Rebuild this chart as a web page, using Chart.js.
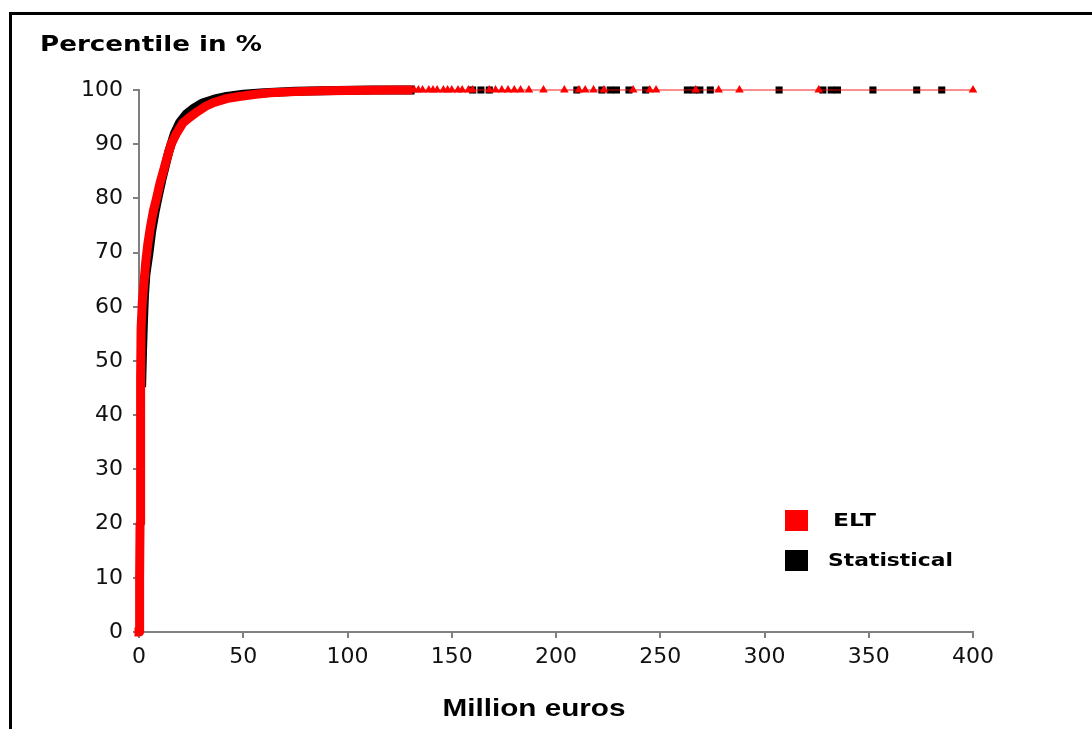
<!DOCTYPE html>
<html>
<head>
<meta charset="utf-8">
<script src="https://cdn.jsdelivr.net/npm/chart.js@4/dist/chart.umd.min.js"></script>
<style>
  body { margin: 0; background: #fff; }
  #frame { position: absolute; left: 9px; top: 12px; width: 1083px; height: 717px;
           border-top: 3px solid #000; border-left: 3px solid #000; }
  canvas { display: block; }
</style>
</head>
<body>
<div id="frame"><canvas id="chart" width="1080" height="714"></canvas></div>
<script>
const xTicks = [0, 50, 100, 150, 200, 250, 300, 350, 400];
const yTicks = [0, 10, 20, 30, 40, 50, 60, 70, 80, 90, 100];
const seriesNames = ['ELT', 'Statistical'];
const xTitle = 'Million euros';
const yTitle = 'Percentile in %';

// ELT: loss (million euros) vs percentile
const eltX = [0, 0.3, 0.5, 0.6, 0.8, 0.9, 1.0, 1.6, 2.5, 3.3, 4.2, 5.6, 6.8, 8.4, 10, 11.8, 13.6, 15.4,
  18, 21, 24.5, 28, 32, 36, 42, 48, 56, 63, 75, 90, 110, 124, 127, 129,
  132, 134, 136, 139, 141, 143, 146, 148, 150, 153, 155, 158, 160, 168, 171, 174, 177, 180, 183, 187,
  194, 204, 211, 214, 218, 223, 237, 245, 248, 267, 278, 288, 326, 400];
const eltY = [0, 10, 20, 30, 40, 47, 56, 61, 65, 68.5, 71.5, 75, 77.5, 80, 82.7, 85.2, 87.7, 90,
  92, 93.9, 95, 96, 97, 97.7, 98.4, 98.8, 99.2, 99.5, 99.7, 99.85, 99.95, 100, 100, 100,
  100, 100, 100, 100, 100, 100, 100, 100, 100, 100, 100, 100, 100, 100, 100, 100, 100, 100, 100, 100,
  100, 100, 100, 100, 100, 100, 100, 100, 100, 100, 100, 100, 100, 100];

// Statistical
const statX = [1.3, 1.7, 2.1, 2.6, 3.3, 4.8, 6.1, 7.7, 9.3, 11, 12.6, 14.2, 15.4, 17, 19.5, 22.5, 26.5,
  30.5, 36, 42, 50, 60, 75, 95, 112, 130,
  160, 164, 168, 210, 222, 226, 229, 235, 243, 263, 266, 269, 274, 307, 328, 332, 335, 352, 373, 385];
const statY = [46, 52, 57, 62, 66, 70, 74, 77.5, 80.5, 83.5, 86, 88.5, 90, 92, 94, 95.5, 96.7,
  97.6, 98.3, 98.8, 99.2, 99.5, 99.75, 99.9, 100, 100,
  100, 100, 100, 100, 100, 100, 100, 100, 100, 100, 100, 100, 100, 100, 100, 100, 100, 100, 100, 100];

const tailStart = 131;
const red = '#ff0000';
const black = '#000000';

function toPoints(xs, ys) {
  return xs.map((x, i) => ({ x: x, y: ys[i] }));
}

function drawFitted(ctx, text, x, y, width, font, align) {
  ctx.save();
  ctx.font = font;
  const w = ctx.measureText(text).width;
  const sx = width / w;
  ctx.translate(align === 'center' ? x - width / 2 : x, y);
  ctx.scale(sx, 1);
  ctx.textAlign = 'left';
  ctx.textBaseline = 'middle';
  ctx.fillText(text, 0, 0);
  ctx.restore();
}

const annotate = {
  id: 'annotate',
  afterDraw(chart) {
    const ctx = chart.ctx;
    ctx.save();
    ctx.fillStyle = '#000';
    drawFitted(ctx, yTitle, 28, 30, 222, 'bold 22px "DejaVu Sans"', 'left');
    drawFitted(ctx, xTitle, 522, 695, 183, 'bold 23px "Liberation Sans"', 'center');

    // legend
    const colors = [red, black];
    const rows = [{ box: 495, text: 506, tx: 821, w: 43 }, { box: 535, text: 546, tx: 816, w: 125 }];
    seriesNames.forEach((name, i) => {
      ctx.fillStyle = colors[i];
      ctx.fillRect(773, rows[i].box, 23, 21);
      ctx.fillStyle = '#000';
      drawFitted(ctx, name, rows[i].tx, rows[i].text, rows[i].w, 'bold 18px "DejaVu Sans"', 'left');
    });
    ctx.restore();
  }
};

const tickFont = { family: 'DejaVu Sans', size: 22 };

new Chart(document.getElementById('chart'), {
  type: 'scatter',
  data: {
    datasets: [
      {
        label: seriesNames[0],
        data: toPoints(eltX, eltY),
        showLine: true,
        tension: 0,
        borderColor: red,
        backgroundColor: red,
        pointStyle: 'triangle',
        pointRadius: ctx => ctx.raw && ctx.raw.x > tailStart ? 5 : 0,
        pointBorderWidth: 0,
        borderCapStyle: 'square',
        borderJoinStyle: 'round',
        clip: false,
        segment: {
          borderWidth: ctx => ctx.p1.parsed.x <= tailStart ? 9 : 1.5,
          borderColor: ctx => ctx.p1.parsed.x <= tailStart ? red : 'rgba(255,0,0,0.6)'
        }
      },
      {
        label: seriesNames[1],
        data: toPoints(statX, statY),
        showLine: true,
        tension: 0,
        borderColor: black,
        backgroundColor: black,
        pointStyle: 'rect',
        pointRadius: ctx => ctx.raw && ctx.raw.x > tailStart ? 5 : 0,
        pointBorderWidth: 0,
        borderCapStyle: 'square',
        borderJoinStyle: 'round',
        clip: false,
        segment: {
          borderWidth: ctx => ctx.p1.parsed.x <= tailStart ? 9 : 1,
          borderColor: ctx => ctx.p1.parsed.x <= tailStart ? black : 'rgba(0,0,0,0)'
        }
      }
    ]
  },
  options: {
    responsive: false,
    animation: false,
    events: [],
    layout: { padding: { left: 0, top: 75, right: 119, bottom: 0 } },
    plugins: { legend: { display: false }, tooltip: { enabled: false } },
    scales: {
      x: {
        type: 'linear',
        min: 0,
        max: 400,
        afterBuildTicks: s => { s.ticks = xTicks.map(v => ({ value: v })); },
        afterFit: s => { s.height = 97; },
        grid: { drawOnChartArea: false, color: '#808080', lineWidth: 2, tickLength: 6 },
        border: { color: '#808080', width: 2 },
        ticks: { font: tickFont, color: '#111', padding: 6, maxRotation: 0, autoSkip: false }
      },
      y: {
        type: 'linear',
        min: 0,
        max: 100,
        afterBuildTicks: s => { s.ticks = yTicks.map(v => ({ value: v })); },
        afterFit: s => { s.width = 127; },
        grid: { drawOnChartArea: false, color: '#808080', lineWidth: 2, tickLength: 6 },
        border: { color: '#808080', width: 2 },
        ticks: { font: tickFont, color: '#111', padding: 10 }
      }
    }
  },
  plugins: [annotate]
});
</script>
</body>
</html>
